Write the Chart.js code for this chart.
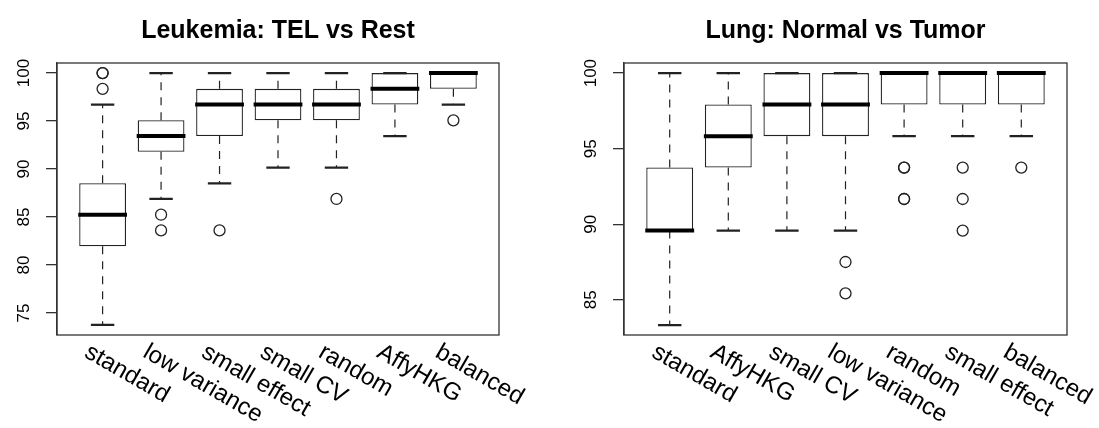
<!DOCTYPE html>
<html>
<head>
<meta charset="utf-8">
<script src="https://cdn.jsdelivr.net/npm/chart.js@4.4.0/dist/chart.umd.min.js"></script>
<style>
  body { margin: 0; background: #fff; width: 1099px; height: 428px; overflow: hidden; position: relative; }
  .panel { position: absolute; top: 0; height: 428px; }
</style>
</head>
<body>
<div class="panel" style="left:0;width:549px"><canvas id="leukemiaChart" width="549" height="428"></canvas></div>
<div class="panel" style="left:549px;width:550px"><canvas id="lungChart" width="550" height="428"></canvas></div>
<script>
// Leukemia: TEL vs Rest (percent)
const leukemiaLabels = ['standard', 'low variance', 'small effect', 'small CV', 'random', 'AffyHKG', 'balanced'];
const leukemiaLow    = [73.77, 86.89, 88.52, 90.16, 90.16, 93.44, 96.72];
const leukemiaQ1     = [81.97, 91.80, 93.44, 95.08, 95.08, 96.72, 98.36];
const leukemiaMedian = [85.25, 93.44, 96.72, 96.72, 96.72, 98.36, 100];
const leukemiaQ3     = [88.52, 95.08, 98.36, 98.36, 98.36, 100, 100];
const leukemiaHigh   = [96.72, 100, 100, 100, 100, 100, 100];
const leukemiaOutliers = [[100, 100, 98.36], [85.25, 83.61], [83.61], [], [86.89], [], [95.08]];
const leukemiaTicks  = [75, 80, 85, 90, 95, 100];

// Lung: Normal vs Tumor (percent)
const lungLabels = ['standard', 'AffyHKG', 'small CV', 'low variance', 'random', 'small effect', 'balanced'];
const lungLow    = [83.33, 89.58, 89.58, 89.58, 95.83, 95.83, 95.83];
const lungQ1     = [89.58, 93.75, 95.83, 95.83, 97.92, 97.92, 97.92];
const lungMedian = [89.58, 95.83, 97.92, 97.92, 100, 100, 100];
const lungQ3     = [93.75, 97.92, 100, 100, 100, 100, 100];
const lungHigh   = [100, 100, 100, 100, 100, 100, 100];
const lungOutliers = [[], [], [], [87.5, 85.42], [93.75, 93.75, 91.67, 91.67], [93.75, 91.67, 89.58], [93.75]];
const lungTicks  = [85, 90, 95, 100];

const FONT = '"Liberation Sans", Arial, Helvetica, sans-serif';
Chart.defaults.font.family = FONT;
Chart.defaults.color = '#000';

const INK = '#222';

// whiskers, staples, medians, frame, title and rotated axis labels
const boxplotExtras = {
  id: 'boxplotExtras',
  afterDatasetsDraw(chart, args, opts) {
    const { ctx, scales: { x, y } } = chart;
    ctx.save();
    opts.median.forEach((m, i) => {
      const cx = x.getPixelForValue(i + 1);
      // dashed whiskers
      ctx.strokeStyle = INK;
      ctx.lineWidth = 1.2;
      ctx.setLineDash([8, 7]);
      ctx.beginPath();
      if (opts.high[i] > opts.q3[i]) {
        ctx.moveTo(cx, y.getPixelForValue(opts.q3[i]));
        ctx.lineTo(cx, y.getPixelForValue(opts.high[i]));
      }
      if (opts.low[i] < opts.q1[i]) {
        ctx.moveTo(cx, y.getPixelForValue(opts.q1[i]));
        ctx.lineTo(cx, y.getPixelForValue(opts.low[i]));
      }
      ctx.stroke();
      ctx.setLineDash([]);
      // staples
      ctx.lineWidth = 2.2;
      ctx.beginPath();
      [opts.high[i], opts.low[i]].forEach(v => {
        const py = y.getPixelForValue(v);
        ctx.moveTo(x.getPixelForValue(i + 0.8), py);
        ctx.lineTo(x.getPixelForValue(i + 1.2), py);
      });
      ctx.stroke();
      // median
      ctx.lineWidth = 4;
      ctx.strokeStyle = '#000';
      ctx.beginPath();
      const my = y.getPixelForValue(m);
      ctx.moveTo(x.getPixelForValue(i + 0.6) - 1, my);
      ctx.lineTo(x.getPixelForValue(i + 1.4) + 1, my);
      ctx.stroke();
    });
    ctx.restore();
  },
  afterDraw(chart, args, opts) {
    const { ctx, chartArea: a, scales: { x, y } } = chart;
    ctx.save();
    ctx.strokeStyle = '#333';
    ctx.lineWidth = 1.3;
    ctx.strokeRect(a.left, a.top, a.right - a.left, a.bottom - a.top);

    ctx.fillStyle = '#000';
    ctx.font = 'bold 25px ' + FONT;
    ctx.textAlign = 'center';
    ctx.textBaseline = 'alphabetic';
    ctx.fillText(opts.title, (a.left + a.right) / 2, 38);

    // y tick labels, parallel to the axis
    ctx.font = '17px ' + FONT;
    ctx.textAlign = 'center';
    ctx.textBaseline = 'middle';
    opts.ticks.forEach(t => {
      ctx.save();
      ctx.translate(a.left - 33, y.getPixelForValue(t));
      ctx.rotate(-Math.PI / 2);
      ctx.fillText(String(t), 0, 0);
      ctx.restore();
    });

    // slanted category labels
    ctx.font = '24px ' + FONT;
    ctx.textAlign = 'left';
    ctx.textBaseline = 'top';
    opts.labels.forEach((lab, i) => {
      ctx.save();
      ctx.translate(x.getPixelForValue(i + 1) - 10, a.bottom + 5);
      ctx.rotate(Math.PI / 6);
      ctx.fillText(lab, 0, 0);
      ctx.restore();
    });
    ctx.restore();
  }
};

function drawBoxplot(canvasId, cfg) {
  const ctx = document.getElementById(canvasId).getContext('2d');
  const outlierPoints = [];
  cfg.outliers.forEach((list, i) => list.forEach(v => outlierPoints.push({ x: i + 1, y: v })));

  return new Chart(ctx, {
    type: 'bar',
    data: {
      datasets: [{
        label: 'box',
        data: cfg.q1.map((v, i) => ({ x: i + 1, y: [v, cfg.q3[i]] })),
        backgroundColor: '#fff',
        borderColor: INK,
        borderWidth: 1.3,
        borderSkipped: false,
        barPercentage: 0.8,
        categoryPercentage: 1
      }, {
        type: 'scatter',
        label: 'outliers',
        data: outlierPoints,
        pointRadius: 5.5,
        pointBorderWidth: 1.3,
        pointBorderColor: INK,
        pointBackgroundColor: 'rgba(0,0,0,0)'
      }]
    },
    options: {
      responsive: false,
      animation: false,
      devicePixelRatio: 1,
      layout: { padding: cfg.padding },
      plugins: {
        legend: { display: false },
        tooltip: { enabled: false },
        boxplotExtras: {
          title: cfg.title, labels: cfg.labels, ticks: cfg.ticks,
          low: cfg.low, q1: cfg.q1, median: cfg.median, q3: cfg.q3, high: cfg.high
        }
      },
      scales: {
        x: {
          type: 'linear',
          offset: false,
          min: 0.22,
          max: 7.78,
          display: false,
          ticks: { stepSize: 1, includeBounds: false }
        },
        y: {
          min: cfg.yMin,
          max: cfg.yMax,
          afterBuildTicks: s => { s.ticks = cfg.ticks.map(v => ({ value: v })); },
          afterFit: s => { s.width = 57; s.paddingTop = 0; s.paddingBottom = 0; },
          ticks: { display: false },
          grid: {
            drawOnChartArea: false,
            drawTicks: true,
            tickLength: 11,
            color: '#333',
            lineWidth: 1.3
          },
          border: { display: true, color: '#333', width: 1.3 }
        }
      }
    },
    plugins: [boxplotExtras]
  });
}

drawBoxplot('leukemiaChart', {
  title: 'Leukemia: TEL vs Rest',
  labels: leukemiaLabels, low: leukemiaLow, q1: leukemiaQ1, median: leukemiaMedian,
  q3: leukemiaQ3, high: leukemiaHigh, outliers: leukemiaOutliers, ticks: leukemiaTicks,
  yMin: 72.72, yMax: 101.05,
  padding: { top: 63, bottom: 93, left: 0, right: 50 }
});

drawBoxplot('lungChart', {
  title: 'Lung: Normal vs Tumor',
  labels: lungLabels, low: lungLow, q1: lungQ1, median: lungMedian,
  q3: lungQ3, high: lungHigh, outliers: lungOutliers, ticks: lungTicks,
  yMin: 82.67, yMax: 100.67,
  padding: { top: 63, bottom: 93, left: 18, right: 32 }
});
</script>
</body>
</html>
